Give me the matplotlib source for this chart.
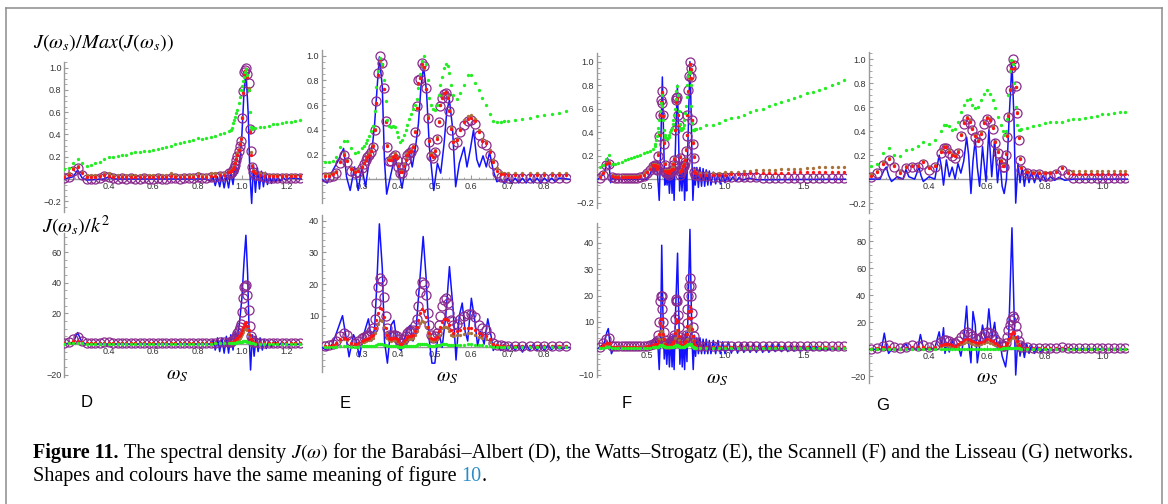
import numpy as np
import matplotlib
matplotlib.use("Agg")
import matplotlib.pyplot as plt
from matplotlib.lines import Line2D
from matplotlib.ticker import FixedLocator, MultipleLocator, FuncFormatter

plt.rcParams["font.family"] = ["Liberation Sans", "DejaVu Sans"]
plt.rcParams["mathtext.fontset"] = "stix"

W, H = 1168, 504


def grid(*segs):
    # sampled frequencies, one (start, stop, step) per segment
    return np.concatenate([np.round(np.arange(a, b + s / 2, s), 4) for a, b, s in segs])


# ---------------- D : Barabasi-Albert ----------------
d_x = grid((0.20, 0.94, 0.02), (0.95, 1.05, 0.005), (1.06, 1.26, 0.02))

d_top_green = [0.09, 0.10, 0.14, 0.18, 0.14, 0.12, 0.13, 0.14, 0.15, 0.18, 0.20, 0.20, 0.21, 0.22, 0.22, 0.23, 0.24, 0.24, 0.25, 0.25,
               0.26, 0.27, 0.28, 0.29, 0.30, 0.31, 0.32, 0.33, 0.34, 0.35, 0.37, 0.36, 0.37, 0.38, 0.39, 0.40, 0.41, 0.43,
               0.44, 0.46, 0.50, 0.53, 0.56, 0.59, 0.62, 0.68, 0.74, 0.80, 0.84, 0.88, 0.92, 0.96, 0.99, 0.93, 0.80, 0.60, 0.47, 0.45, 0.46,
               0.46, 0.47, 0.47, 0.48, 0.49, 0.49, 0.50, 0.51, 0.51, 0.52, 0.53]
d_top_brown = [0.03, 0.05, 0.10, 0.12, 0.06, 0.04, 0.04, 0.04, 0.04, 0.05, 0.05, 0.04, 0.04, 0.04, 0.04, 0.04, 0.04, 0.04, 0.04, 0.04,
               0.04, 0.04, 0.04, 0.04, 0.05, 0.04, 0.04, 0.04, 0.04, 0.04, 0.05, 0.04, 0.04, 0.05, 0.05, 0.05, 0.05, 0.07,
               0.08, 0.09, 0.10, 0.12, 0.15, 0.19, 0.23, 0.27, 0.32, 0.37, 0.56, 0.78, 0.94, 0.97, 0.99, 0.93, 0.82, 0.44, 0.24, 0.13, 0.08,
               0.06, 0.05, 0.05, 0.04, 0.04, 0.04, 0.04, 0.04, 0.04, 0.04, 0.04]
d_top_red = [0.02, 0.04, 0.09, 0.11, 0.05, 0.02, 0.02, 0.02, 0.03, 0.04, 0.03, 0.02, 0.02, 0.02, 0.02, 0.02, 0.02, 0.02, 0.02, 0.02,
             0.02, 0.02, 0.02, 0.02, 0.03, 0.02, 0.02, 0.02, 0.02, 0.02, 0.03, 0.02, 0.02, 0.03, 0.03, 0.04, 0.04, 0.06,
             0.07, 0.08, 0.09, 0.11, 0.14, 0.18, 0.22, 0.26, 0.31, 0.36, 0.55, 0.77, 0.93, 0.97, 0.99, 0.92, 0.80, 0.42, 0.22, 0.12, 0.07,
             0.05, 0.04, 0.03, 0.03, 0.03, 0.03, 0.03, 0.03, 0.03, 0.03, 0.03]
d_top_purple = [0.01, 0.02, 0.07, 0.10, 0.04, 0.00, 0.00, 0.00, 0.01, 0.03, 0.02, 0.01, 0.00, 0.01, 0.00, 0.01, 0.00, 0.00, 0.01, 0.00,
                0.00, 0.01, 0.00, 0.00, 0.01, 0.01, 0.00, 0.01, 0.01, 0.01, 0.02, 0.01, 0.01, 0.02, 0.02, 0.03, 0.03, 0.05,
                0.05, 0.06, 0.08, 0.10, 0.13, 0.17, 0.21, 0.25, 0.30, 0.34, 0.55, 0.79, 0.96, 0.98, 1.00, 0.94, 0.86, 0.45, 0.25, 0.11, 0.06,
                0.04, 0.03, 0.02, 0.01, 0.01, 0.01, 0.01, 0.01, 0.01, 0.01, 0.01]
d_top_blue_x = [0.20, 0.24, 0.26, 0.28, 0.30, 0.38, 0.40, 0.42, 0.84, 0.86, 0.87, 0.88, 0.89, 0.90, 0.91, 0.92, 0.93, 0.94, 0.95,
                0.96, 0.97, 0.98, 0.99, 1.00, 1.01, 1.018, 1.028, 1.036, 1.044, 1.052, 1.061, 1.070, 1.079, 1.088, 1.097, 1.106,
                1.115, 1.124, 1.133, 1.142, 1.152, 1.162, 1.172, 1.185, 1.198, 1.215, 1.27]
d_top_blue_y = [0.00, 0.02, 0.08, 0.01, -0.01, 0.00, 0.02, 0.00, 0.00, -0.02, 0.02, -0.06, 0.02, -0.07, 0.03, -0.08, 0.03, -0.08, 0.06,
                -0.05, 0.12, 0.05, 0.15, 0.40, 0.80, 0.98, 0.60, 0.05, -0.22, 0.13, -0.12, 0.10, -0.09, 0.07, -0.07, 0.06,
                -0.05, 0.04, -0.04, 0.03, -0.03, 0.02, -0.02, 0.015, -0.01, 0.01, 0.00]

d_bot_green = [0.2, 0.3, 0.6, 0.8, 0.4, 0.2, 0.2, 0.2, 0.2, 0.2, 0.2, 0.2, 0.2, 0.2, 0.2, 0.2, 0.2, 0.2, 0.2, 0.2,
               0.2, 0.2, 0.2, 0.2, 0.2, 0.2, 0.2, 0.2, 0.2, 0.2, 0.2, 0.2, 0.2, 0.2, 0.3, 0.3, 0.3, 0.3,
               0.3, 0.3, 0.4, 0.5, 0.6, 0.8, 1.0, 1.2, 1.4, 1.5, 1.6, 1.7, 1.8, 1.8, 1.8, 1.6, 1.3, 0.9, 0.5, 0.3, 0.3,
               0.2, 0.2, 0.2, 0.2, 0.2, 0.2, 0.2, 0.2, 0.2, 0.2, 0.2]
d_bot_brown = [0.3, 0.6, 1.3, 1.6, 0.8, 0.3, 0.3, 0.3, 0.3, 0.5, 0.5, 0.3, 0.3, 0.3, 0.3, 0.3, 0.3, 0.3, 0.3, 0.3,
               0.3, 0.3, 0.3, 0.3, 0.3, 0.3, 0.3, 0.3, 0.3, 0.3, 0.4, 0.3, 0.3, 0.4, 0.4, 0.5, 0.5, 0.6,
               0.8, 0.9, 1.1, 1.4, 1.8, 2.2, 2.8, 3.5, 4.2, 5.0, 6.5, 8.0, 9.5, 10.0, 10.5, 9.0, 6.5, 4.5, 2.2, 1.2, 0.8,
               0.6, 0.4, 0.4, 0.3, 0.3, 0.3, 0.3, 0.3, 0.3, 0.3, 0.3]
d_bot_red = [0.3, 0.8, 1.8, 2.2, 1.0, 0.4, 0.4, 0.4, 0.4, 0.6, 0.6, 0.4, 0.4, 0.4, 0.4, 0.4, 0.4, 0.4, 0.4, 0.4,
             0.4, 0.4, 0.4, 0.4, 0.4, 0.4, 0.4, 0.4, 0.4, 0.4, 0.5, 0.4, 0.4, 0.5, 0.5, 0.6, 0.7, 0.8,
             1.0, 1.2, 1.5, 2.0, 2.5, 3.0, 4.0, 5.0, 6.0, 7.0, 9.0, 11.0, 13.0, 14.0, 14.5, 12.0, 9.0, 6.0, 3.0, 1.5, 1.0,
             0.7, 0.5, 0.5, 0.4, 0.4, 0.4, 0.4, 0.4, 0.4, 0.4, 0.4]
d_bot_purple = [0.5, 1.5, 3.5, 4.3, 2.0, 0.6, 0.5, 0.5, 0.6, 1.0, 1.0, 0.6, 0.5, 0.5, 0.5, 0.5, 0.5, 0.5, 0.5, 0.5,
                0.5, 0.5, 0.5, 0.5, 0.5, 0.5, 0.5, 0.5, 0.5, 0.6, 0.8, 0.6, 0.6, 0.8, 0.8, 1.0, 1.0, 1.2,
                1.5, 2.0, 2.5, 3.5, 4.0, 5.0, 7.0, 9.0, 11.0, 13.0, 21.0, 30.0, 37.0, 38.0, 38.5, 32.0, 22.0, 12.0, 5.0, 2.5, 1.5,
                1.0, 0.8, 0.7, 0.6, 0.5, 0.5, 0.5, 0.5, 0.5, 0.5, 0.5]
d_bot_blue_x = [0.20, 0.24, 0.26, 0.28, 0.30, 0.86, 0.87, 0.88, 0.89, 0.90, 0.91, 0.92, 0.93, 0.94, 0.95, 0.96, 0.97, 0.98, 0.99,
                1.00, 1.01, 1.018, 1.026, 1.033, 1.039, 1.047, 1.055, 1.064, 1.073, 1.082, 1.092, 1.10, 1.11, 1.12, 1.13,
                1.15, 1.16, 1.18, 1.20, 1.27]
d_bot_blue_y = [0, 1, 7.4, 1, 0, 0, 3, -4, 4, -5, 4, -6, 5, -6, 6, -4, 8, 4, 15,
                30, 55, 71, 45, 5, -17, 6, -8, 5, -5, 4, -4, 3, -3, 2, -2,
                1.5, -1.5, 1, -0.5, 0]

# ---------------- E : Watts-Strogatz ----------------
e_x = grid((0.20, 0.29, 0.01), (0.30, 0.545, 0.005), (0.55, 0.69, 0.01), (0.70, 0.86, 0.02))

e_top_green = [0.14, 0.14, 0.15, 0.18, 0.26, 0.31, 0.31, 0.25, 0.21, 0.22,
               0.25, 0.27, 0.29, 0.32, 0.35, 0.39, 0.43, 0.55, 0.75, 0.88,
               0.98, 0.93, 0.80, 0.63, 0.48, 0.43, 0.42, 0.43, 0.42, 0.38,
               0.34, 0.30, 0.32, 0.36, 0.40, 0.44, 0.49, 0.53, 0.57, 0.60,
               0.65, 0.74, 0.85, 0.96, 1.00, 0.93, 0.80, 0.66, 0.60, 0.57,
               0.56, 0.60, 0.68, 0.76, 0.83, 0.90, 0.93, 0.92, 0.86, 0.76,
               0.68, 0.65, 0.70, 0.76, 0.84, 0.84, 0.78, 0.72, 0.66, 0.60, 0.53, 0.47, 0.46, 0.46, 0.47,
               0.47, 0.48, 0.49, 0.50, 0.51, 0.52, 0.53, 0.54, 0.55]
e_top_brown = [0.04, 0.04, 0.05, 0.07, 0.15, 0.21, 0.16, 0.09, 0.07, 0.08,
               0.11, 0.14, 0.17, 0.19, 0.21, 0.24, 0.28, 0.41, 0.62, 0.84,
               0.96, 0.92, 0.73, 0.47, 0.28, 0.17, 0.17, 0.19, 0.21, 0.18,
               0.12, 0.07, 0.07, 0.12, 0.17, 0.21, 0.23, 0.24, 0.27, 0.39,
               0.58, 0.77, 0.82, 0.92, 0.90, 0.73, 0.51, 0.32, 0.21, 0.19,
               0.24, 0.34, 0.47, 0.60, 0.67, 0.70, 0.71, 0.67, 0.56, 0.42,
               0.31, 0.33, 0.41, 0.48, 0.51, 0.52, 0.49, 0.40, 0.33, 0.31, 0.24, 0.16, 0.09, 0.06, 0.05,
               0.05, 0.05, 0.05, 0.05, 0.05, 0.05, 0.05, 0.05, 0.05]
e_top_red = [0.03, 0.03, 0.04, 0.06, 0.14, 0.20, 0.15, 0.08, 0.06, 0.07,
             0.10, 0.13, 0.16, 0.18, 0.20, 0.23, 0.27, 0.40, 0.62, 0.84,
             0.97, 0.93, 0.73, 0.46, 0.27, 0.16, 0.16, 0.18, 0.20, 0.17,
             0.11, 0.06, 0.06, 0.11, 0.16, 0.20, 0.22, 0.23, 0.26, 0.38,
             0.58, 0.78, 0.82, 0.93, 0.91, 0.73, 0.50, 0.31, 0.20, 0.18,
             0.23, 0.33, 0.46, 0.60, 0.66, 0.70, 0.71, 0.66, 0.55, 0.41,
             0.30, 0.32, 0.40, 0.46, 0.49, 0.50, 0.47, 0.38, 0.31, 0.29, 0.22, 0.14, 0.07, 0.04, 0.04,
             0.035, 0.035, 0.035, 0.035, 0.035, 0.035, 0.035, 0.035, 0.035]
e_top_purple = [0.02, 0.02, 0.03, 0.05, 0.13, 0.20, 0.14, 0.07, 0.05, 0.06,
                0.09, 0.12, 0.16, 0.18, 0.20, 0.22, 0.26, 0.40, 0.63, 0.86,
                1.00, 0.94, 0.74, 0.47, 0.26, 0.15, 0.15, 0.18, 0.20, 0.16,
                0.10, 0.05, 0.05, 0.10, 0.16, 0.20, 0.21, 0.22, 0.25, 0.38,
                0.59, 0.80, 0.81, 0.94, 0.92, 0.74, 0.50, 0.30, 0.19, 0.17,
                0.22, 0.33, 0.46, 0.59, 0.66, 0.69, 0.70, 0.66, 0.55, 0.40,
                0.28, 0.30, 0.38, 0.44, 0.47, 0.48, 0.45, 0.36, 0.29, 0.28, 0.20, 0.12, 0.05, 0.02, 0.02,
                0.01, 0.01, 0.01, 0.01, 0.01, 0.01, 0.01, 0.01, 0.01]
e_top_blue_x = [0.19, 0.205, 0.22, 0.235, 0.25, 0.258, 0.268, 0.28, 0.29, 0.30, 0.31, 0.32, 0.33, 0.335, 0.342,
                0.348, 0.356, 0.362, 0.368, 0.378, 0.39, 0.40, 0.41, 0.418, 0.428, 0.438, 0.447, 0.455, 0.462, 0.469,
                0.477, 0.485, 0.497, 0.507, 0.516, 0.525, 0.533, 0.54, 0.548, 0.557, 0.567, 0.58, 0.588, 0.597, 0.606,
                0.615, 0.622, 0.632, 0.641, 0.65, 0.66, 0.67, 0.68, 0.69, 0.70, 0.71, 0.72, 0.73, 0.74, 0.75,
                0.76, 0.77, 0.78, 0.79, 0.80, 0.81, 0.82, 0.83, 0.84, 0.87]
e_top_blue_y = [0.0, -0.03, 0.07, 0.15, 0.25, 0.02, -0.09, 0.10, -0.09, 0.10, -0.06, 0.15, 0.30, 0.45, 0.75,
                0.99, 0.75, 0.15, -0.12, 0.02, 0.18, 0.08, -0.07, 0.07, 0.25, 0.10, 0.26, 0.45, 0.75, 0.91,
                0.72, 0.26, -0.09, 0.13, 0.05, 0.28, 0.56, 0.64, 0.43, -0.06, 0.13, 0.26, 0.10, 0.24, 0.40,
                0.16, 0.10, 0.19, 0.10, 0.22, 0.07, -0.02, 0.0, -0.03, 0.01, -0.03, 0.01, -0.03, 0.01, -0.03,
                0.01, -0.03, 0.01, -0.03, 0.01, -0.02, 0.01, -0.02, 0.01, 0.0]

e_bot_green = [0.1, 0.1, 0.1, 0.2, 0.3, 0.4, 0.3, 0.2, 0.2, 0.2,
               0.3, 0.3, 0.3, 0.3, 0.3, 0.3, 0.4, 0.5, 0.7, 0.9,
               1.0, 1.0, 0.8, 0.6, 0.4, 0.3, 0.3, 0.3, 0.3, 0.3,
               0.2, 0.2, 0.2, 0.3, 0.3, 0.3, 0.3, 0.3, 0.4, 0.5,
               0.7, 0.9, 1.1, 1.2, 1.1, 0.9, 0.7, 0.5, 0.4, 0.4,
               0.5, 0.6, 0.7, 0.8, 0.9, 0.9, 0.9, 0.8, 0.7, 0.7,
               0.7, 0.7, 0.8, 0.8, 0.9, 0.9, 0.8, 0.7, 0.6, 0.5, 0.4, 0.2, 0.1, 0.1, 0.1,
               0.1, 0.1, 0.1, 0.1, 0.1, 0.1, 0.1, 0.1, 0.1]
e_bot_brown = [0.3, 0.4, 0.6, 1.2, 2.0, 2.5, 2.2, 1.2, 1.0, 1.2,
               1.6, 1.8, 2.0, 2.2, 2.4, 2.7, 3.0, 4.5, 6.0, 7.5,
               8.5, 8.2, 6.5, 4.5, 3.0, 2.3, 2.1, 2.3, 2.3, 2.1,
               1.6, 1.0, 1.0, 1.6, 2.1, 2.5, 2.7, 2.7, 3.0, 3.8,
               5.0, 6.5, 7.8, 8.2, 8.0, 6.5, 4.8, 3.5, 2.4, 2.0,
               2.2, 2.6, 3.8, 5.0, 6.0, 6.5, 6.5, 6.0, 5.0, 4.0,
               3.5, 3.8, 4.0, 4.3, 4.5, 4.5, 4.0, 3.4, 3.0, 2.6, 1.8, 1.0, 0.6, 0.4, 0.3,
               0.3, 0.3, 0.3, 0.3, 0.3, 0.3, 0.3, 0.3, 0.3]
e_bot_red = [0.4, 0.5, 0.8, 1.5, 2.5, 3.0, 2.7, 1.5, 1.2, 1.5,
             2.0, 2.2, 2.5, 2.7, 3.0, 3.5, 4.0, 6.0, 8.5, 11.0,
             12.5, 12.0, 9.5, 6.0, 4.0, 3.0, 2.7, 3.0, 3.0, 2.7,
             2.0, 1.2, 1.2, 2.0, 2.7, 3.2, 3.5, 3.5, 4.0, 5.0,
             6.5, 8.5, 11.0, 12.0, 11.5, 9.5, 6.5, 4.5, 3.0, 2.5,
             2.7, 3.2, 5.0, 6.5, 8.0, 9.0, 9.0, 8.5, 7.0, 5.5,
             4.5, 5.0, 5.5, 6.0, 6.0, 6.0, 5.5, 4.5, 4.0, 3.5, 2.5, 1.2, 0.7, 0.5, 0.4,
             0.4, 0.4, 0.4, 0.4, 0.4, 0.4, 0.4, 0.4, 0.4]
e_bot_purple = [0.5, 0.6, 1.0, 2.0, 3.5, 4.5, 4.0, 2.0, 1.5, 2.0,
                3.0, 3.2, 3.5, 3.8, 4.0, 5.0, 6.0, 9.0, 14.0, 19.0,
                22.0, 21.0, 16.0, 10.0, 6.0, 4.0, 3.5, 4.0, 4.0, 3.5,
                2.5, 1.5, 1.5, 2.5, 3.5, 4.5, 5.0, 5.0, 5.5, 7.0,
                9.0, 13.0, 17.5, 20.5, 20.0, 16.5, 11.0, 7.0, 4.0, 3.0,
                3.5, 4.5, 7.0, 10.0, 13.0, 15.0, 15.5, 14.0, 11.0, 8.5,
                7.0, 7.5, 9.0, 10.0, 10.5, 10.5, 9.5, 7.0, 6.0, 5.5, 3.5, 1.5, 0.8, 0.6, 0.5,
                0.5, 0.5, 0.5, 0.5, 0.5, 0.5, 0.5, 0.5, 0.5]
e_bot_blue_x = [0.19, 0.205, 0.22, 0.235, 0.247, 0.257, 0.265, 0.277, 0.285, 0.293, 0.305, 0.318, 0.327, 0.335, 0.341,
                0.348, 0.356, 0.362, 0.37, 0.38, 0.388, 0.398, 0.408, 0.415, 0.425, 0.433, 0.44, 0.448, 0.458, 0.468,
                0.476, 0.485, 0.492, 0.50, 0.51, 0.52, 0.53, 0.54, 0.55, 0.558, 0.567, 0.575, 0.583, 0.59, 0.60,
                0.61, 0.617, 0.625, 0.635, 0.645, 0.655, 0.66, 0.67, 0.68, 0.69, 0.70, 0.71, 0.72, 0.73, 0.74,
                0.75, 0.76, 0.77, 0.78, 0.79, 0.80, 0.81, 0.82, 0.83, 0.84, 0.87]
e_bot_blue_y = [0, -1, 1.2, 6, 10, 3, -3, 4, 2, -3, 4, 9, 2, 6, 20,
                39, 25, 2, -5, 7, 8.5, 0, -1, 2, 6, 7, 2, 5, 20, 35,
                22, 2, -5, -5, 5, 0, 10, 25.5, 12, -4, 10, 14, 5, 2, 15.5,
                8, 0.5, 5, 1, 9, 3, -1, 1, -1, 1, -1, 1, -1, 1, -1.5,
                1, -1, 1, -1, 1, -1, 0.8, -0.8, 0.5, -0.5, 0]

# ---------------- F : Scannell ----------------
f_x = grid((0.20, 0.54, 0.02), (0.55, 0.815, 0.005), (0.84, 1.76, 0.04))

f_top_green = [0.10, 0.12, 0.17, 0.21, 0.13, 0.13, 0.14, 0.15, 0.16, 0.17, 0.18, 0.19, 0.20, 0.21, 0.22, 0.23, 0.24, 0.26,
               0.28, 0.30, 0.33, 0.37, 0.40, 0.44, 0.50, 0.58, 0.65, 0.72,
               0.62, 0.50, 0.42, 0.38, 0.36, 0.35, 0.34, 0.35, 0.36, 0.38,
               0.40, 0.42, 0.44, 0.47, 0.50, 0.55, 0.60, 0.68, 0.75, 0.79,
               0.72, 0.58, 0.47, 0.44, 0.42, 0.43, 0.44, 0.46, 0.50, 0.56,
               0.62, 0.70, 0.80, 0.88, 0.91, 0.90, 0.80, 0.62, 0.48, 0.42,
               0.42, 0.42, 0.43, 0.43,
               0.44, 0.46, 0.46, 0.48, 0.50, 0.52, 0.53, 0.55, 0.57, 0.59, 0.60, 0.62,
               0.64, 0.66, 0.67, 0.69, 0.71, 0.73, 0.74, 0.76, 0.78, 0.80, 0.82, 0.84]
f_top_brown = [0.03, 0.06, 0.14, 0.15, 0.04, 0.03, 0.03, 0.03, 0.03, 0.03, 0.03, 0.03, 0.03, 0.04, 0.05, 0.07, 0.10, 0.13,
               0.13, 0.12, 0.11, 0.10, 0.12, 0.22, 0.38, 0.55, 0.66, 0.73,
               0.64, 0.54, 0.32, 0.14, 0.08, 0.07, 0.07, 0.08, 0.07, 0.06,
               0.08, 0.09, 0.10, 0.10, 0.14, 0.18, 0.42, 0.65, 0.67, 0.68,
               0.55, 0.46, 0.20, 0.07, 0.08, 0.10, 0.12, 0.13, 0.14, 0.17,
               0.26, 0.38, 0.55, 0.74, 0.86, 0.97, 0.93, 0.85, 0.50, 0.32,
               0.20, 0.08, 0.06, 0.06,
               0.05, 0.05, 0.05, 0.055, 0.06, 0.06, 0.065, 0.07, 0.07, 0.075, 0.075, 0.08,
               0.08, 0.085, 0.085, 0.09, 0.09, 0.095, 0.095, 0.10, 0.10, 0.10, 0.105, 0.105]
f_top_red = [0.02, 0.05, 0.13, 0.14, 0.03, 0.02, 0.02, 0.02, 0.02, 0.02, 0.02, 0.02, 0.02, 0.03, 0.04, 0.06, 0.09, 0.12,
             0.12, 0.11, 0.10, 0.09, 0.11, 0.21, 0.38, 0.55, 0.66, 0.74,
             0.65, 0.54, 0.31, 0.13, 0.07, 0.06, 0.06, 0.07, 0.06, 0.05,
             0.07, 0.08, 0.09, 0.09, 0.13, 0.17, 0.42, 0.66, 0.68, 0.69,
             0.55, 0.46, 0.19, 0.06, 0.07, 0.09, 0.11, 0.12, 0.13, 0.16,
             0.25, 0.38, 0.55, 0.75, 0.87, 0.98, 0.94, 0.86, 0.50, 0.31,
             0.19, 0.07, 0.05, 0.05,
             0.04, 0.04, 0.04, 0.04, 0.04, 0.045, 0.045, 0.045, 0.05, 0.05, 0.05, 0.05,
             0.055, 0.055, 0.055, 0.06, 0.06, 0.06, 0.06, 0.065, 0.065, 0.065, 0.065, 0.065]
f_top_purple = [0.01, 0.04, 0.12, 0.13, 0.02, 0.01, 0.01, 0.01, 0.01, 0.01, 0.01, 0.01, 0.01, 0.02, 0.03, 0.05, 0.08, 0.11,
                0.12, 0.11, 0.09, 0.08, 0.10, 0.20, 0.37, 0.55, 0.67, 0.75,
                0.65, 0.55, 0.30, 0.12, 0.06, 0.05, 0.05, 0.06, 0.05, 0.04,
                0.06, 0.07, 0.08, 0.08, 0.12, 0.16, 0.42, 0.67, 0.69, 0.70,
                0.55, 0.46, 0.18, 0.04, 0.06, 0.08, 0.10, 0.11, 0.12, 0.15,
                0.24, 0.37, 0.55, 0.76, 0.88, 1.00, 0.95, 0.87, 0.50, 0.30,
                0.18, 0.06, 0.04, 0.04,
                0.03, 0.03, 0.02, 0.02, 0.02, 0.02, 0.02, 0.02, 0.02, 0.02, 0.01, 0.01,
                0.01, 0.01, 0.01, 0.01, 0.01, 0.01, 0.01, 0.01, 0.01, 0.01, 0.01, 0.01]
f_top_blue_x = [0.19, 0.23, 0.25, 0.26, 0.27, 0.28, 0.30, 0.50, 0.52, 0.54, 0.55, 0.56, 0.57, 0.58, 0.59,
                0.60, 0.608, 0.615, 0.622, 0.63, 0.637, 0.645, 0.655, 0.662, 0.668, 0.675, 0.685, 0.696, 0.703, 0.71,
                0.72, 0.725, 0.735, 0.742, 0.75, 0.755, 0.765, 0.776, 0.785, 0.79, 0.795, 0.805, 0.81, 0.82, 0.83,
                0.84, 0.85, 0.86, 0.87, 0.88, 0.89, 0.90, 0.91, 0.925, 0.94, 0.955, 0.97, 0.985, 1.00, 1.015,
                1.03, 1.05, 1.07, 1.09, 1.11, 1.15, 1.20, 1.77]
f_top_blue_y = [0, 0.05, 0.18, 0.12, -0.03, 0.01, 0, 0, 0.04, 0.10, 0.05, 0.12, 0.03, -0.18, 0.30,
                0.87, 0.35, -0.05, 0.05, -0.05, 0.08, -0.12, 0.10, -0.12, 0.10, -0.18, 0.35, 0.80, 0.40, -0.10,
                0.08, -0.10, 0.12, -0.18, 0.10, -0.10, 0.40, 1.00, 0.50, 0.10, -0.18, 0.10, -0.05, 0.10, -0.07,
                0.10, -0.06, 0.09, -0.06, 0.08, -0.05, 0.07, -0.05, 0.06, -0.04, 0.05, -0.04, 0.04, -0.03, 0.03,
                -0.02, 0.02, -0.02, 0.015, -0.01, 0.01, -0.005, 0]

f_bot_green = [0.1, 0.2, 0.4, 0.5, 0.2, 0.1, 0.1, 0.1, 0.1, 0.1, 0.1, 0.1, 0.1, 0.1, 0.1, 0.2, 0.3, 0.4,
               0.5, 0.5, 0.5, 0.5, 0.6, 0.7, 0.9, 1.1, 1.3, 1.3,
               1.2, 1.0, 0.8, 0.6, 0.5, 0.5, 0.5, 0.5, 0.5, 0.5,
               0.5, 0.5, 0.6, 0.6, 0.7, 0.8, 1.0, 1.2, 1.3, 1.2,
               1.0, 0.8, 0.6, 0.5, 0.5, 0.5, 0.5, 0.6, 0.7, 0.8,
               1.0, 1.2, 1.4, 1.6, 1.7, 1.7, 1.5, 1.2, 0.9, 0.6,
               0.4, 0.3, 0.3, 0.3,
               0.3, 0.3, 0.3, 0.3, 0.3, 0.3, 0.3, 0.3, 0.3, 0.3, 0.3, 0.3,
               0.3, 0.3, 0.3, 0.3, 0.3, 0.3, 0.3, 0.3, 0.3, 0.3, 0.3, 0.3]
f_bot_brown = [0.3, 0.8, 1.3, 1.5, 0.5, 0.4, 0.4, 0.4, 0.4, 0.4, 0.4, 0.4, 0.4, 0.4, 0.5, 0.6, 0.7, 0.8,
               1.0, 1.1, 1.2, 1.2, 1.3, 2.0, 3.5, 5.5, 6.5, 6.5,
               5.0, 3.5, 2.2, 1.2, 0.9, 0.8, 0.8, 0.8, 0.8, 0.8,
               0.9, 0.9, 1.1, 1.3, 1.6, 2.0, 3.8, 6.0, 7.0, 6.5,
               4.5, 3.0, 1.7, 1.0, 1.0, 1.0, 1.0, 1.2, 1.3, 1.6,
               2.0, 3.5, 5.5, 7.0, 8.0, 8.5, 8.0, 7.0, 4.5, 3.0,
               1.8, 1.0, 0.7, 0.6,
               0.6, 0.6, 0.6, 0.6, 0.6, 0.6, 0.6, 0.6, 0.6, 0.6, 0.6, 0.6,
               0.6, 0.6, 0.6, 0.6, 0.6, 0.6, 0.6, 0.6, 0.6, 0.6, 0.6, 0.6]
f_bot_red = [0.4, 1.2, 2.0, 2.2, 0.7, 0.6, 0.6, 0.6, 0.6, 0.6, 0.6, 0.6, 0.6, 0.6, 0.7, 0.8, 0.9, 1.1,
             1.4, 1.5, 1.6, 1.6, 1.8, 2.8, 5.5, 9.5, 11.0, 11.0,
             8.5, 5.5, 3.5, 1.8, 1.2, 1.0, 1.0, 1.0, 1.0, 1.0,
             1.3, 1.3, 1.6, 1.8, 2.3, 2.8, 6.0, 10.0, 11.0, 10.5,
             7.0, 4.5, 2.5, 1.3, 1.3, 1.3, 1.3, 1.6, 1.8, 2.3,
             2.8, 5.5, 8.5, 11.5, 14.0, 15.5, 14.0, 11.5, 7.5, 4.5,
             2.8, 1.5, 1.0, 0.8,
             0.7, 0.7, 0.7, 0.7, 0.7, 0.7, 0.7, 0.7, 0.7, 0.7, 0.7, 0.7,
             0.7, 0.7, 0.7, 0.7, 0.7, 0.7, 0.7, 0.7, 0.7, 0.7, 0.7, 0.7]
f_bot_purple = [0.5, 2.0, 3.5, 4.0, 1.0, 0.8, 0.8, 0.8, 0.8, 0.8, 0.8, 0.8, 0.8, 0.8, 0.9, 1.0, 1.2, 1.5,
                2.0, 2.2, 2.5, 2.5, 3.0, 5.0, 10.0, 18.0, 20.0, 20.0,
                15.0, 10.0, 6.3, 3.0, 2.0, 1.5, 1.5, 1.5, 1.5, 1.5,
                2.0, 2.0, 2.5, 3.0, 4.0, 5.0, 11.0, 18.0, 18.5, 18.0,
                12.5, 8.0, 4.4, 2.0, 2.0, 2.0, 2.0, 2.5, 3.0, 4.0,
                5.0, 9.7, 15.0, 20.0, 23.5, 26.5, 23.5, 20.0, 13.3, 8.0,
                4.7, 2.5, 1.5, 1.2,
                1.0, 1.0, 0.9, 0.9, 0.9, 0.9, 0.8, 0.8, 0.8, 0.8, 0.8, 0.8,
                0.8, 0.8, 0.8, 0.8, 0.8, 0.8, 0.8, 0.8, 0.8, 0.8, 0.8, 0.8]
f_bot_blue_x = [0.19, 0.23, 0.245, 0.255, 0.265, 0.275, 0.29, 0.50, 0.52, 0.54, 0.55, 0.56, 0.57, 0.58, 0.59,
                0.596, 0.603, 0.612, 0.62, 0.628, 0.637, 0.645, 0.655, 0.662, 0.668, 0.675, 0.685, 0.697, 0.705, 0.712,
                0.72, 0.727, 0.735, 0.742, 0.75, 0.757, 0.766, 0.776, 0.784, 0.79, 0.797, 0.805, 0.812, 0.82, 0.83,
                0.84, 0.85, 0.86, 0.87, 0.88, 0.89, 0.90, 0.91, 0.925, 0.94, 0.955, 0.97, 0.985, 1.00, 1.02,
                1.04, 1.06, 1.08, 1.10, 1.12, 1.14, 1.16, 1.18, 1.20, 1.22, 1.24, 1.26, 1.28, 1.30, 1.32,
                1.34, 1.36, 1.38, 1.40, 1.42, 1.44, 1.46, 1.48, 1.50, 1.52, 1.54, 1.56, 1.58, 1.60, 1.77]
f_bot_blue_y = [0, 2, 6, 7.5, 2, -2, 0, 0, 1, 3, 4, 2, 3, -8, 10,
                39, 15, -4, 3, -6, 4, -7, 4, -7, 5, -8, 15, 36, 12, -6,
                3, -7, 4, -8, 6, -5, 20, 45, 18, 2, -8, 5, -3, 4, -2,
                4, -2, 3.5, -2, 3.5, -2, 3, -2, 3, -2, 3, -2, 2.5, -2, 2.5,
                -1.8, 2, -1.8, 2, -1.5, 2, -1.5, 1.8, -1.5, 1.8, -1.5, 1.5, -1.5, 1.5, -1.2,
                1.5, -1.2, 1.2, -1.2, 1.2, -1.0, 1.0, -1.0, 1.0, -0.8, 1.0, -0.8, 0.8, -0.6, 0]

# ---------------- G : Lisseau ----------------
g_x = grid((0.20, 0.44, 0.02), (0.45, 0.65, 0.01), (0.655, 0.72, 0.005), (0.74, 1.08, 0.02))

g_top_green = [0.11, 0.13, 0.22, 0.26, 0.20, 0.19, 0.24, 0.25, 0.28, 0.31, 0.29, 0.33, 0.40,
               0.45, 0.45, 0.44, 0.41, 0.42, 0.48, 0.56, 0.62, 0.66, 0.67, 0.62, 0.59, 0.60, 0.66, 0.71, 0.74, 0.71, 0.66, 0.59, 0.52, 0.45,
               0.40, 0.37, 0.40, 0.50, 0.70, 0.90, 0.99, 0.96, 0.80, 0.60, 0.45, 0.41, 0.41, 0.42,
               0.43, 0.44, 0.45, 0.47, 0.48, 0.48, 0.48, 0.49, 0.50, 0.50, 0.51, 0.52, 0.53, 0.54, 0.54, 0.55, 0.56, 0.56]
g_top_brown = [0.04, 0.07, 0.14, 0.18, 0.12, 0.065, 0.11, 0.12, 0.12, 0.15, 0.10, 0.12, 0.24,
               0.28, 0.28, 0.24, 0.21, 0.20, 0.24, 0.38, 0.48, 0.52, 0.49, 0.43, 0.37, 0.33, 0.39, 0.48, 0.52, 0.50, 0.44, 0.32, 0.24, 0.16,
               0.12, 0.12, 0.22, 0.37, 0.54, 0.75, 0.92, 0.98, 0.93, 0.77, 0.56, 0.35, 0.18, 0.10,
               0.07, 0.06, 0.06, 0.06, 0.06, 0.07, 0.10, 0.07, 0.065, 0.065, 0.065, 0.065, 0.065, 0.065, 0.065, 0.065, 0.065, 0.065]
g_top_red = [0.03, 0.06, 0.13, 0.17, 0.11, 0.055, 0.10, 0.11, 0.11, 0.14, 0.09, 0.11, 0.23,
             0.27, 0.27, 0.23, 0.20, 0.19, 0.23, 0.37, 0.47, 0.51, 0.48, 0.42, 0.36, 0.32, 0.38, 0.47, 0.51, 0.49, 0.43, 0.31, 0.23, 0.15,
             0.11, 0.11, 0.21, 0.36, 0.53, 0.74, 0.92, 0.98, 0.93, 0.77, 0.55, 0.34, 0.17, 0.09,
             0.06, 0.05, 0.05, 0.05, 0.05, 0.06, 0.09, 0.05, 0.04, 0.04, 0.04, 0.04, 0.04, 0.04, 0.04, 0.04, 0.04, 0.04]
g_top_purple = [0.02, 0.05, 0.12, 0.16, 0.10, 0.045, 0.09, 0.10, 0.10, 0.13, 0.08, 0.10, 0.22,
                0.26, 0.26, 0.22, 0.19, 0.175, 0.22, 0.36, 0.46, 0.50, 0.47, 0.41, 0.35, 0.31, 0.37, 0.46, 0.50, 0.48, 0.42, 0.30, 0.22, 0.14,
                0.10, 0.10, 0.20, 0.35, 0.52, 0.74, 0.93, 1.00, 0.95, 0.78, 0.55, 0.33, 0.16, 0.08,
                0.05, 0.04, 0.04, 0.03, 0.03, 0.04, 0.08, 0.04, 0.01, 0.01, 0.01, 0.01, 0.01, 0.01, 0.01, 0.01, 0.01, 0.01]
g_top_blue_x = [0.19, 0.23, 0.245, 0.252, 0.26, 0.27, 0.29, 0.31, 0.32, 0.33, 0.35, 0.365, 0.372, 0.38, 0.40,
                0.42, 0.435, 0.443, 0.45, 0.46, 0.47, 0.48, 0.49, 0.50, 0.51, 0.52, 0.53, 0.537, 0.545, 0.552,
                0.56, 0.567, 0.575, 0.585, 0.597, 0.607, 0.617, 0.627, 0.637, 0.645, 0.653, 0.66, 0.668, 0.677, 0.687,
                0.694, 0.70, 0.708, 0.715, 0.722, 0.73, 0.738, 0.746, 0.755, 0.765, 0.775, 0.785, 0.795, 0.805, 0.82,
                0.835, 0.85, 0.87, 0.90, 1.09]
g_top_blue_y = [0, 0, 0.08, 0.10, 0.03, -0.02, 0.02, 0.0, 0.08, 0.02, 0.0, 0.10, 0.03, -0.02, 0.02,
                0.0, 0.20, 0.10, -0.05, 0.16, 0.02, 0.10, 0.0, 0.13, 0.05, 0.15, 0.35, 0.20, -0.12, 0.15,
                0.33, 0.10, -0.06, 0.27, -0.02, 0.41, 0.02, 0.33, -0.03, 0.16, -0.06, -0.12, 0.0, 0.50, 0.97,
                0.50, -0.20, 0.13, -0.03, 0.10, -0.06, 0.08, -0.03, 0.06, -0.03, 0.05, -0.02, 0.03, -0.02, 0.02,
                -0.01, 0.015, -0.01, 0.0, 0.0]

g_bot_green = [0.1, 0.2, 0.3, 0.3, 0.2, 0.2, 0.2, 0.3, 0.3, 0.3, 0.3, 0.3, 0.4,
               0.5, 0.5, 0.5, 0.5, 0.5, 0.5, 0.6, 0.6, 0.6, 0.6, 0.6, 0.6, 0.6, 0.6, 0.6, 0.6, 0.6, 0.6, 0.6, 0.6, 0.6,
               0.7, 0.7, 0.7, 0.8, 0.9, 1.0, 1.1, 1.1, 1.0, 0.9, 0.8, 0.7, 0.6, 0.5,
               0.4, 0.4, 0.4, 0.4, 0.4, 0.4, 0.4, 0.4, 0.4, 0.4, 0.4, 0.4, 0.4, 0.4, 0.4, 0.4, 0.4, 0.4]
g_bot_brown = [0.3, 0.5, 1.0, 1.2, 0.8, 0.4, 0.8, 1.2, 1.0, 1.4, 0.8, 1.2, 2.2,
               2.9, 2.9, 2.5, 2.1, 1.9, 2.5, 3.7, 4.7, 5.1, 4.7, 4.1, 3.5, 3.1, 3.7, 4.5, 5.1, 4.9, 4.3, 3.1, 2.3, 1.5,
               1.1, 1.1, 2.1, 3.5, 5.2, 6.8, 8.2, 9.0, 8.5, 6.8, 4.6, 2.5, 1.3, 0.9,
               0.7, 0.6, 0.6, 0.5, 0.5, 0.6, 0.9, 0.6, 0.5, 0.5, 0.5, 0.5, 0.5, 0.5, 0.5, 0.5, 0.5, 0.5]
g_bot_red = [0.4, 0.7, 1.5, 1.8, 1.2, 0.6, 1.2, 1.8, 1.5, 2.0, 1.2, 1.8, 3.2,
             4.2, 4.2, 3.6, 3.0, 2.7, 3.6, 5.4, 6.8, 7.4, 6.8, 6.0, 5.1, 4.5, 5.4, 6.5, 7.4, 7.1, 6.2, 4.5, 3.3, 2.1,
             1.5, 1.5, 3.0, 5.0, 7.5, 9.5, 11.5, 13.0, 12.0, 9.5, 6.5, 3.5, 1.8, 1.2,
             1.0, 0.8, 0.8, 0.7, 0.7, 0.8, 1.2, 0.8, 0.6, 0.6, 0.6, 0.6, 0.6, 0.6, 0.6, 0.6, 0.6, 0.6]
g_bot_purple = [0.5, 1.0, 2.5, 3.0, 2.0, 1.0, 2.0, 3.0, 2.5, 3.5, 2.0, 3.0, 5.5,
                7.0, 7.0, 6.0, 5.0, 4.5, 6.0, 9.0, 11.5, 12.5, 11.5, 10.0, 8.5, 7.5, 9.0, 11.0, 12.5, 12.0, 10.5, 7.5, 5.5, 3.5,
                2.5, 2.5, 5.0, 9.0, 14.0, 18.0, 22.0, 25.0, 23.0, 17.0, 11.0, 6.0, 3.0, 2.0,
                1.5, 1.2, 1.2, 1.0, 1.0, 1.2, 2.0, 1.2, 0.8, 0.8, 0.8, 0.8, 0.8, 0.8, 0.8, 0.8, 0.8, 0.8]
g_bot_blue_x = [0.19, 0.235, 0.245, 0.252, 0.26, 0.27, 0.30, 0.32, 0.33, 0.34, 0.36, 0.37, 0.38, 0.40, 0.42,
                0.435, 0.443, 0.45, 0.455, 0.462, 0.47, 0.48, 0.49, 0.50, 0.51, 0.52, 0.53, 0.537, 0.545, 0.552,
                0.56, 0.567, 0.575, 0.585, 0.597, 0.607, 0.617, 0.627, 0.637, 0.645, 0.653, 0.665, 0.675, 0.687, 0.694,
                0.70, 0.708, 0.715, 0.722, 0.73, 0.738, 0.746, 0.755, 0.765, 0.775, 0.785, 0.80, 0.82, 0.85, 1.09]
g_bot_blue_y = [0, 0, 12, 3, -3, 0, 0, 4, 0, 1, 0, 11, 1, 0, 1,
                13, 2, 16, -3, 5, -2, 7, 0, 4, -5, 7, 32, 5, -10, 28,
                18, -10, 2, 18, 5, 30, 8, 20, 0, 6, -5, -13, 5, 90, 30,
                -19, 10, -5, 5, -6, 4, -3, 3, -3, 2, -2, 1, -1, 0.5, 0]

# ---------------- assemble ----------------
series = {
    "D": (d_x, [(d_top_green, d_top_brown, d_top_red, d_top_purple, d_top_blue_x, d_top_blue_y),
                (d_bot_green, d_bot_brown, d_bot_red, d_bot_purple, d_bot_blue_x, d_bot_blue_y)]),
    "E": (e_x, [(e_top_green, e_top_brown, e_top_red, e_top_purple, e_top_blue_x, e_top_blue_y),
                (e_bot_green, e_bot_brown, e_bot_red, e_bot_purple, e_bot_blue_x, e_bot_blue_y)]),
    "F": (f_x, [(f_top_green, f_top_brown, f_top_red, f_top_purple, f_top_blue_x, f_top_blue_y),
                (f_bot_green, f_bot_brown, f_bot_red, f_bot_purple, f_bot_blue_x, f_bot_blue_y)]),
    "G": (g_x, [(g_top_green, g_top_brown, g_top_red, g_top_purple, g_top_blue_x, g_top_blue_y),
                (g_bot_green, g_bot_brown, g_bot_red, g_bot_purple, g_bot_blue_x, g_bot_blue_y)]),
}

# pixel layout of each panel: y-axis position, px per unit, limits and ticks
TOPT = [-0.2, 0.2, 0.4, 0.6, 0.8, 1.0]
frames = {
    "D": dict(x0=64.3, ppu=222.0, xlim=(0.20, 1.27), xmaj=[0.4, 0.6, 0.8, 1.0, 1.2], xmin=0.05,
              rows=[dict(ylim=(-0.294, 1.054), top=61.7, bot=211.7, ymaj=TOPT, ymin=0.05, fmt="{:.1f}"),
                    dict(ylim=(-21.4, 72.5), top=233.0, bot=376.7, ymaj=[-20, 20, 40, 60], ymin=5, fmt="{:.0f}")]),
    "E": dict(x0=321.7, ppu=365.0, xlim=(0.19, 0.87), xmaj=[0.3, 0.4, 0.5, 0.6, 0.7, 0.8], xmin=0.02,
              rows=[dict(ylim=(-0.194, 1.046), top=50.0, bot=203.3, ymaj=TOPT, ymin=0.05, fmt="{:.1f}"),
                    dict(ylim=(-7.7, 41.8), top=215.0, bot=371.7, ymaj=[10, 20, 30, 40], ymin=2, fmt="{:.0f}")]),
    "F": dict(x0=596.7, ppu=156.7, xlim=(0.181, 1.77), xmaj=[0.5, 1.0, 1.5], xmin=0.1,
              rows=[dict(ylim=(-0.245, 1.074), top=53.0, bot=208.0, ymaj=TOPT, ymin=0.05, fmt="{:.1f}"),
                    dict(ylim=(-10.7, 47.3), top=223.3, bot=376.7, ymaj=[-10, 10, 20, 30, 40], ymin=2, fmt="{:.0f}")]),
    "G": dict(x0=869.0, ppu=288.8, xlim=(0.192, 1.09), xmaj=[0.4, 0.6, 0.8, 1.0], xmin=0.05,
              rows=[dict(ylim=(-0.28, 1.057), top=52.3, bot=212.7, ymaj=TOPT, ymin=0.05, fmt="{:.1f}"),
                    dict(ylim=(-24.7, 95.8), top=220.0, bot=382.7, ymaj=[-20, 20, 40, 60, 80], ymin=5, fmt="{:.0f}")]),
}

GREEN = "#22ee22"
BROWN = "#a8703a"
RED = "#ff1414"
PURPLE = "#8a2a8e"
BLUE = "#1212ff"
AXIS = "#9a9a9a"

fig = plt.figure(figsize=(W / 100, H / 100), dpi=100)


def fmt_func(fmt):
    return FuncFormatter(lambda v, pos: fmt.format(v).replace("-", "\u2212"))


for key, (x, rows) in series.items():
    fr = frames[key]
    x1 = fr["x0"] + (fr["xlim"][1] - fr["xlim"][0]) * fr["ppu"]
    for (g, b, r, p, bx, by), rw in zip(rows, fr["rows"]):
        for s in (g, b, r, p):
            if len(s) != len(x):
                raise ValueError(f"{key}: {len(s)} values for {len(x)} x")
        if len(bx) != len(by):
            raise ValueError(f"{key}: blue {len(bx)} x vs {len(by)} y")
        ax = fig.add_axes([fr["x0"] / W, 1 - rw["bot"] / H,
                           (x1 - fr["x0"]) / W, (rw["bot"] - rw["top"]) / H])
        ax.patch.set_visible(False)
        ax.plot(bx, by, color=BLUE, lw=1.1, zorder=3)
        ax.plot(x, p, "o", mfc="none", mec=PURPLE, ms=6.5, mew=0.9, zorder=4)
        ax.plot(x, b, "o", color=BROWN, ms=2.4, mew=0, zorder=5)
        ax.plot(x, r, "o", color=RED, ms=2.4, mew=0, zorder=6)
        ax.plot(x, g, "o", color=GREEN, ms=2.4, mew=0, zorder=7)
        ax.set_xlim(fr["xlim"])
        ax.set_ylim(rw["ylim"])
        for s in ("top", "right"):
            ax.spines[s].set_visible(False)
        ax.spines["bottom"].set_position(("data", 0))
        for s in ("left", "bottom"):
            ax.spines[s].set_color(AXIS)
            ax.spines[s].set_linewidth(1.0)
        ax.xaxis.set_major_locator(FixedLocator(fr["xmaj"]))
        ax.xaxis.set_minor_locator(MultipleLocator(fr["xmin"]))
        ax.yaxis.set_major_locator(FixedLocator(rw["ymaj"]))
        ax.yaxis.set_minor_locator(MultipleLocator(rw["ymin"]))
        ax.xaxis.set_major_formatter(fmt_func("{:.1f}"))
        ax.yaxis.set_major_formatter(fmt_func(rw["fmt"]))
        ax.tick_params(which="major", direction="in", length=3.2, width=0.8, color=AXIS,
                       labelsize=6.5, labelcolor="#333333", pad=2)
        ax.tick_params(which="minor", direction="in", length=1.8, width=0.6, color=AXIS)

# axis titles and panel letters
fig.text(33 / W, 1 - 42.5 / H, r"$J(\omega_s)/Max(J(\omega_s))$", fontsize=14.5, ha="left", va="center")
fig.text(41.7 / W, 1 - 226.7 / H, r"$J(\omega_s)/k^2$", fontsize=14.5, ha="left", va="center")
for cx, cy in [(176.7, 375.0), (446.7, 378.0), (716.7, 380.0), (986.7, 378.3)]:
    fig.text(cx / W, 1 - cy / H, r"$\omega_S$", fontsize=14, ha="center", va="center")
for lab, cx, cy in [("D", 86.7, 402.7), ("E", 345.3, 404.0), ("F", 626.7, 404.0), ("G", 882.7, 405.0)]:
    fig.text(cx / W, 1 - cy / H, lab, fontsize=12, ha="center", va="center", color="black")

# frame around the figure (open at the bottom)
for xs, ys in [([6, 1162], [8, 8]), ([6, 6], [8, 504]), ([1162, 1162], [8, 504])]:
    fig.add_artist(Line2D([v / W for v in xs], [1 - v / H for v in ys],
                          transform=fig.transFigure, color="#8c8c8c", lw=1.1))

# caption
SERIF = ["Liberation Serif", "DejaVu Serif"]
line1 = [("Figure 11.", 0, dict(weight="bold")),
         ("The spectral density", 1, {}),
         (r"$J(\omega)$", 1, {}),
         ("for the Barabási–Albert (D), the Watts–Strogatz (E), the Scannell (F) and the Lisseau (G) networks.", 1, {})]
line2 = [("Shapes and colours have the same meaning of figure", 0, {}),
         ("10", 1, dict(color="#2a8bc8")),
         (".", 0, {})]


def put_line(pieces, x_px, base_px, size):
    rend = fig.canvas.get_renderer()
    xx = x_px
    made = []
    for txt, gap, kw in pieces:
        xx += gap * 0.25 * size * 100 / 72
        t = fig.text(xx / W, 1 - base_px / H, txt, fontsize=size, ha="left", va="baseline",
                     family=SERIF, **kw)
        made.append(t)
        xx = t.get_window_extent(renderer=rend).x1
    return made, xx - x_px


tmp, wid = put_line(line1, 33, 458, 13)
for t in tmp:
    t.remove()
cap_size = 13 * 1099 / wid
put_line(line1, 33, 458, cap_size)
put_line(line2, 33, 481, cap_size)

fig.savefig("out.png", dpi=100)
